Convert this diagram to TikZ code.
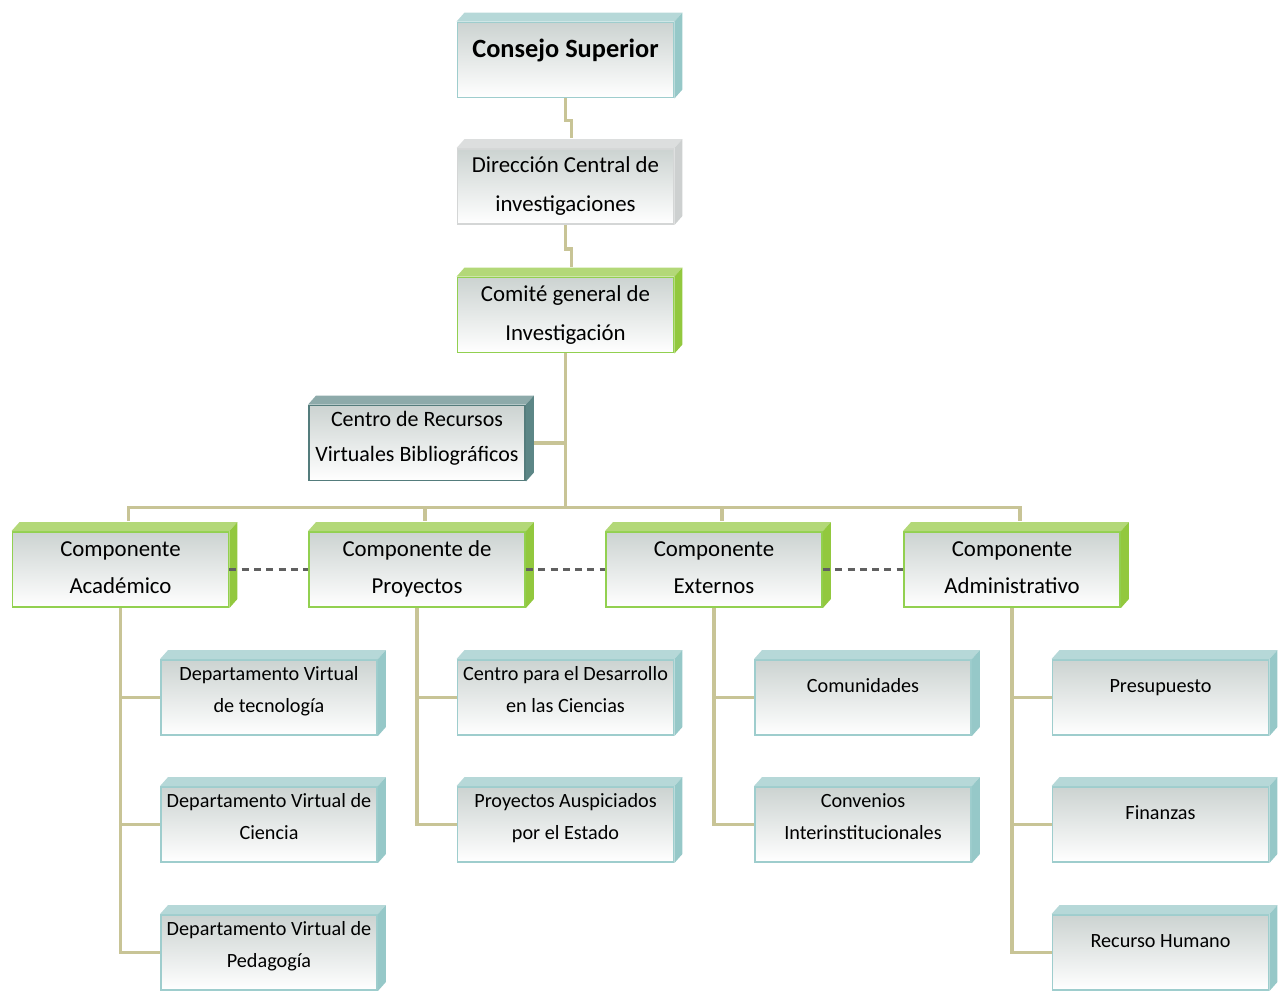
\documentclass[tikz,border=0pt]{standalone}
\usepackage{fontspec}
\setmainfont{Carlito}
\usepackage{tikz}
\usetikzlibrary{calc,backgrounds}

\definecolor{lineaoliva}{RGB}{200,196,150}
\definecolor{caraarriba}{RGB}{204,211,209}
\definecolor{bordeteal}{RGB}{158,205,205}
\definecolor{biselteal}{RGB}{150,200,200}
\definecolor{bordeverde}{RGB}{146,208,80}
\definecolor{biselverde}{RGB}{146,200,62}
\definecolor{bordegris}{RGB}{212,214,214}
\definecolor{biselgris}{RGB}{205,208,208}
\definecolor{bordepizarra}{RGB}{84,124,124}
\definecolor{biselpizarra}{RGB}{92,134,134}

% bisel 3D de cada caja (arriba y a la derecha)
\newcommand{\bisel}[2]{%
  \fill[#2!70!white] (#1.north west) -- ++(8,-9) -- ($(#1.north east)+(8,-9)$) -- (#1.north east) -- cycle;
  \fill[#2] (#1.north east) -- ++(8,-9) -- ($(#1.south east)+(8,-9)$) -- (#1.south east) -- cycle;
}

\tikzset{
  cara/.style={rectangle, minimum width=4.32cm, minimum height=1.5cm, inner sep=0pt,
    align=center, line width=1.1pt, top color=caraarriba, bottom color=white, text=black},
  tapa/.style={cara, draw=bordeteal, font=\fontsize{15}{20}\selectfont\bfseries,
    text height=11.2pt, text depth=13.5pt},
  gris/.style={cara, draw=bordegris, font=\fontsize{13}{22}\selectfont,
    text height=31.75pt, text depth=3.2pt},
  verde/.style={gris, draw=bordeverde},
  comp/.style={cara, draw=bordeverde, font=\fontsize{13}{21}\selectfont,
    text height=30.75pt, text depth=3pt},
  pizarra/.style={cara, draw=bordepizarra, font=\fontsize{12.5}{19.8}\selectfont,
    text height=29.2pt, text depth=8.2pt},
  hoja/.style={cara, draw=bordeteal, font=\fontsize{11.5}{18}\selectfont,
    text height=26.6pt, text depth=9.4pt},
  hojauna/.style={hoja, text height=8.6pt, text depth=14.8pt},
  linea/.style={draw=lineaoliva, line width=1.8pt},
  punteado/.style={draw=gray!75!black, line width=1.3pt, dash pattern=on 4pt off 3pt},
}

\begin{document}
\begin{tikzpicture}[x=0.02cm, y=-0.02cm]
\useasboundingbox (0,0) rectangle (1282,991);

% cabeza
\node[tapa] (consejo) at (565.5,60) {Consejo Superior};
\node[gris] (direccion) at (565.5,186.5) {Dirección Central de\\investigaciones};
\node[verde] (comite) at (565.5,315) {Comité general de\\Investigación};
\node[pizarra] (recursos) at (417,443) {Centro de Recursos\\Virtuales Bibliográficos};

% componentes
\node[comp] (acad) at (120.5,569.5) {Componente\\Académico};
\node[comp] (proy) at (417,569.5) {Componente de\\Proyectos};
\node[comp] (ext) at (714,569.5) {Componente\\Externos};
\node[comp] (adm) at (1012,569.5) {Componente\\Administrativo};

% hojas
\node[hoja] (dtec) at (269,697.5) {Departamento Virtual\\de tecnología};
\node[hoja] (dcien) at (269,824.5) {Departamento Virtual de\\Ciencia};
\node[hoja] (dped) at (269,952.5) {Departamento Virtual de\\Pedagogía};
\node[hoja] (cdes) at (565.5,697.5) {Centro para el Desarrollo\\en las Ciencias};
\node[hoja] (paus) at (565.5,824.5) {Proyectos Auspiciados\\por el Estado};
\node[hojauna] (comu) at (863,697.5) {Comunidades};
\node[hoja] (conv) at (863,824.5) {Convenios\\Interinstitucionales};
\node[hojauna] (pres) at (1160.5,697.5) {Presupuesto};
\node[hojauna] (fin) at (1160.5,824.5) {Finanzas};
\node[hojauna] (rh) at (1160.5,952.5) {Recurso Humano};

% biseles
\foreach \n in {consejo,dtec,dcien,dped,cdes,paus,comu,conv,pres,fin,rh}
  {\bisel{\n}{biselteal}}
\foreach \n in {comite,acad,proy,ext,adm}
  {\bisel{\n}{biselverde}}
\bisel{direccion}{biselgris}
\bisel{recursos}{biselpizarra}

% conectores
\begin{scope}[on background layer]
\draw[linea] (consejo.south) -- ++(0,22) -- ++(6,0) -- ($(direccion.north)+(6,-10)$);
\draw[linea] (direccion.south) -- ++(0,24) -- ++(6,0) -- ($(comite.north)+(6,-10)$);
\draw[linea] (comite.south) -- ++(0,154) coordinate (bus);
\foreach \c in {acad,proy,ext,adm}
  \draw[linea] (bus) -| ($(\c.north)+(8,-10)$);
\draw[linea] ($(recursos.east)+(8,0)$) -- (recursos.east -| bus);
\foreach \c/\h in {acad/dtec,acad/dcien,acad/dped,proy/cdes,proy/paus,ext/comu,ext/conv,adm/pres,adm/fin,adm/rh}
  \draw[linea] (\c.south) |- (\h.west);
\end{scope}

\draw[punteado] (acad.east) -- (proy.west);
\draw[punteado] (proy.east) -- (ext.west);
\draw[punteado] (ext.east) -- (adm.west);
\end{tikzpicture}
\end{document}
